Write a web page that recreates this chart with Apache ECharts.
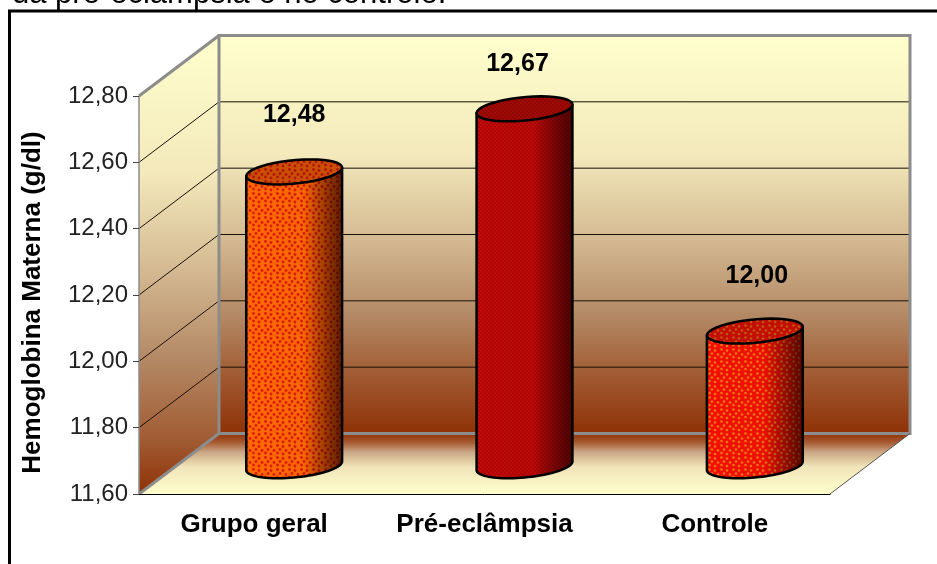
<!DOCTYPE html>
<html>
<head>
<meta charset="utf-8">
<style>
  html, body { margin: 0; padding: 0; background: #fff; }
  #chart { width: 937px; height: 564px; }
</style>
<script src="https://cdn.jsdelivr.net/npm/echarts@6/dist/echarts.min.js"></script>
</head>
<body>
<div id="chart"></div>
<script>
const categories = ['Grupo geral', 'Pré-eclâmpsia', 'Controle']
const values = [12.48, 12.67, 12.00]
const yTicks = [11.6, 11.8, 12.0, 12.2, 12.4, 12.6, 12.8]
const yTitle = 'Hemoglobina Materna (g/dl)'
const caption = 'da pré-eclâmpsia e no controle:'

// how far the back wall sits behind the front plane, in pixels
const depthX = 80
const depthY = -60.5
const labelNudge = [[0, -57], [-7, -45], [2, -55]]

const comma = v => v.toFixed(2).replace('.', ',')

// dotted fills for the cylinders
function dots(bg, dot, size, pts, r) {
  const c = document.createElement('canvas')
  c.width = c.height = size
  const g = c.getContext('2d')
  g.fillStyle = bg
  g.fillRect(0, 0, size, size)
  g.fillStyle = dot
  pts.forEach(p => {
    g.beginPath()
    g.arc(p[0], p[1], r, 0, Math.PI * 2)
    g.fill()
  })
  return { image: c, repeat: 'repeat' }
}
const coarse = [[1.5, 1.5], [7, 2.5], [4, 5.5], [10, 6.5], [1.5, 9], [7, 10]]
const fine = [[1, 1], [3, 3]]
const fills = [
  dots('#ff6a00', '#dd1c10', 12, coarse, 1.4),
  dots('#c40a0a', '#a30404', 4, fine, 0.9),
  dots('#f41000', '#ee7a14', 12, coarse, 1.3)
]

function ringPoint(c, t) {
  return [c[0] + 45 * Math.cos(t) + 16.5 * Math.sin(t), c[1] - 12.5 * Math.sin(t)]
}
function arc(c, from, to) {
  const out = []
  for (let i = 0; i <= 40; i++) out.push(ringPoint(c, from + (to - from) * i / 40))
  return out
}

function renderWalls(params, api) {
  const s = params.coordSys
  const l = s.x, r = s.x + s.width, t = s.y, b = s.y + s.height
  const wall = {
    type: 'linear', x: 0, y: 0, x2: 0, y2: 1,
    colorStops: [
      { offset: 0, color: '#ffffcc' }, { offset: 0.3, color: '#f3e9bb' },
      { offset: 0.5, color: '#d6bc94' }, { offset: 0.7, color: '#b48a66' },
      { offset: 0.85, color: '#a15c34' }, { offset: 1, color: '#8f3106' }
    ]
  }
  const side = {
    type: 'linear', x: 0, y: 0, x2: 0, y2: 1,
    colorStops: [
      { offset: 0, color: '#ffffcc' }, { offset: 0.3, color: '#f3e9bb' },
      { offset: 0.5, color: '#d6bc94' }, { offset: 0.7, color: '#b48a66' },
      { offset: 0.88, color: '#a15c34' }, { offset: 1, color: '#8f3106' }
    ]
  }
  const floor = {
    type: 'linear', x: 0, y: 0, x2: 0, y2: 1,
    colorStops: [
      { offset: 0, color: '#8f3106' }, { offset: 0.15, color: '#a85c34' },
      { offset: 0.3, color: '#c9a482' }, { offset: 0.55, color: '#f0e4b8' },
      { offset: 1, color: '#ffffcc' }
    ]
  }
  const grey = { stroke: '#8c8c8c', lineWidth: 3, fill: 'none' }
  const kids = [
    { type: 'polygon', shape: { points: [[l + depthX, t + depthY], [r + depthX, t + depthY], [r + depthX, b + depthY], [l + depthX, b + depthY]] }, style: { fill: wall } },
    { type: 'polygon', shape: { points: [[l, t], [l + depthX, t + depthY], [l + depthX, b + depthY], [l, b]] }, style: { fill: side } },
    { type: 'polygon', shape: { points: [[l, b], [l + depthX, b + depthY], [r + depthX, b + depthY], [r, b]] }, style: { fill: floor } }
  ]
  yTicks.slice(1, -1).forEach(v => {
    const y = api.coord([0, v])[1]
    kids.push({ type: 'polyline', shape: { points: [[l, y], [l + depthX, y + depthY], [r + depthX, y + depthY]] }, style: { stroke: '#1a1008', lineWidth: 1, fill: 'none' } })
  })
  kids.push(
    { type: 'polygon', shape: { points: [[l + depthX, t + depthY], [r + depthX, t + depthY], [r + depthX, b + depthY], [l + depthX, b + depthY]] }, style: grey },
    { type: 'polyline', shape: { points: [[l, t], [l + depthX, t + depthY]] }, style: grey },
    { type: 'polyline', shape: { points: [[l, b], [l + depthX, b + depthY]] }, style: grey },
    { type: 'polyline', shape: { points: [[l, t], [l, b]] }, style: { stroke: '#8c8c8c', lineWidth: 1.5, fill: 'none' } },
    { type: 'polyline', shape: { points: [[r, b], [r + depthX, b + depthY]] }, style: { stroke: '#555', lineWidth: 1, fill: 'none' } }
  )
  return { type: 'group', children: kids }
}

function renderBar(params, api) {
  const i = params.dataIndex
  const topFront = api.coord([api.value(0), api.value(1)])
  const baseFront = api.coord([api.value(0), yTicks[0]])
  const top = [topFront[0] + depthX / 2, topFront[1] + depthY / 2]
  const base = [baseFront[0] + depthX / 2, baseFront[1] + depthY / 2 + 2]
  const t1 = Math.atan2(16.5, 45)
  const t0 = Math.PI + t1
  const body = arc(base, t0, Math.PI * 2 + t1).concat([ringPoint(top, t1), ringPoint(top, t0)])
  const cap = arc(top, 0, Math.PI * 2)
  const shade = {
    type: 'linear', x: 0, y: 0, x2: 1, y2: 0,
    colorStops: [
      { offset: 0, color: 'rgba(0,0,0,0)' }, { offset: 0.6, color: 'rgba(0,0,0,0.03)' },
      { offset: 1, color: 'rgba(30,0,0,0.72)' }
    ]
  }
  const outline = { stroke: '#000', lineWidth: 2.5, fill: 'none', lineJoin: 'round' }
  return {
    type: 'group',
    children: [
      { type: 'polygon', shape: { points: body }, style: { fill: fills[i] } },
      { type: 'polygon', shape: { points: body }, style: { fill: shade } },
      { type: 'polygon', shape: { points: body }, style: outline },
      { type: 'polygon', shape: { points: cap }, style: { fill: fills[i] } },
      { type: 'polygon', shape: { points: cap }, style: { fill: 'rgba(70,10,0,0.28)' } },
      { type: 'polygon', shape: { points: cap }, style: outline },
      {
        type: 'text',
        x: top[0] + labelNudge[i][0],
        y: top[1] + labelNudge[i][1],
        style: { text: comma(api.value(1)), fill: '#000', font: 'bold 25px "Liberation Sans"', align: 'center', verticalAlign: 'middle' }
      }
    ]
  }
}

const chart = echarts.init(document.getElementById('chart'), null, { renderer: 'canvas' })
chart.setOption({
  animation: false,
  backgroundColor: '#fff',
  grid: { left: 139, width: 691, top: 96, height: 398 },
  xAxis: {
    type: 'category',
    data: categories,
    z: 5,
    axisLine: { lineStyle: { color: '#000', width: 1 } },
    axisTick: { length: 6, lineStyle: { color: '#333' } },
    axisLabel: { color: '#000', fontFamily: 'Liberation Sans', fontWeight: 'bold', fontSize: 26, margin: 18 }
  },
  yAxis: {
    type: 'value',
    min: 11.6,
    max: 12.8,
    interval: 0.2,
    z: 5,
    name: yTitle,
    nameLocation: 'middle',
    nameGap: 93,
    nameTextStyle: { color: '#000', fontFamily: 'Liberation Sans', fontWeight: 'bold', fontSize: 26, padding: [0, 15, 0, 0] },
    axisLine: { show: false },
    axisTick: { show: true, length: 6, lineStyle: { color: '#444' } },
    splitLine: { show: false },
    axisLabel: { color: '#222', fontFamily: 'Liberation Sans', fontSize: 24, margin: 11, formatter: v => comma(v) }
  },
  graphic: [
    { type: 'polyline', z: 10, shape: { points: [[9.5, 570], [9.5, 11], [945, 11]] }, style: { stroke: '#000', lineWidth: 3, fill: 'none' } },
    { type: 'text', z: 10, x: 12, y: 10, style: { text: caption, fill: '#000', font: '31px "Liberation Sans"', verticalAlign: 'bottom' } }
  ],
  series: [
    { type: 'custom', z: 1, renderItem: renderWalls, data: [[0, 11.6]], silent: true },
    { type: 'custom', z: 2, renderItem: renderBar, data: values.map((v, i) => [i, v]), silent: true }
  ]
})
</script>
</body>
</html>
